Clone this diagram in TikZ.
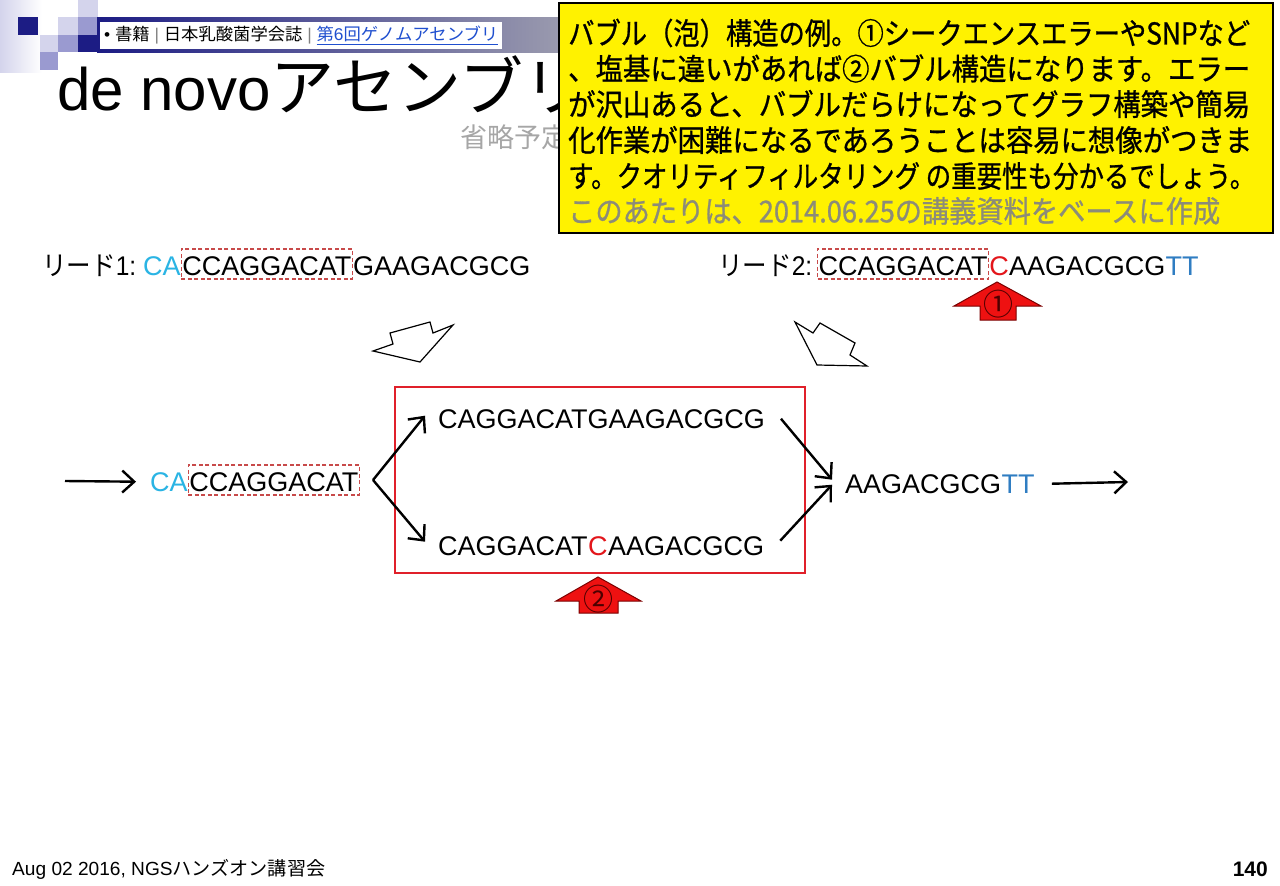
\documentclass[tikz,border=0pt]{standalone}
\usepackage{fontspec}
\setmainfont{Liberation Sans}
\newfontfamily\jp{Noto Sans CJK JP}
\newfontfamily\jpb[FakeBold=0.9]{Noto Sans CJK JP}
\usetikzlibrary{arrows.meta}
\definecolor{navy}{HTML}{1C1C84}
\definecolor{lavA}{HTML}{D4D4EC}
\definecolor{lavB}{HTML}{9A9AD0}
\definecolor{bargray}{HTML}{9A9AAE}
\definecolor{linkblue}{HTML}{1F4FCF}
\definecolor{seqcyan}{HTML}{2AB4E4}
\definecolor{ttblue}{HTML}{2F7DC2}
\definecolor{mutred}{HTML}{E3161B}
\definecolor{boxred}{HTML}{E0202A}
\definecolor{dashred}{HTML}{C84A4A}
\definecolor{arrowred}{HTML}{EE1111}
\definecolor{darkred}{HTML}{7A0000}
\definecolor{notegray}{HTML}{8C8C78}
\definecolor{subgray}{HTML}{A6A6A6}
\newcommand\seqfont{\fontsize{27}{30}\selectfont}
\newcommand\fitto[2]{\resizebox{#1}{\height}{#2}}
\begin{document}
\begin{tikzpicture}[x=1pt,y=-1pt,
  seq/.style={inner sep=0pt, font=\seqfont, anchor=base west},
  dbox/.style={seq, draw=dashred, dash pattern=on 4pt off 2.5pt, line width=1.1pt, inner xsep=1pt, inner ysep=4pt, text height=22pt, text depth=0pt},
  arr/.style={line width=2.4pt, -{Straight Barb[length=12pt,width=22pt,line width=2.4pt]}},
  hollow/.style={draw=black, line width=1.2pt, fill=white, line join=miter},
  redarrow/.style={fill=arrowred, draw=darkred, line width=1pt, line join=miter},
  circnum/.style={inner sep=0pt, font=\jp\fontsize{30}{30}\selectfont, text=black!70!red},
  cline/.style={anchor=west, inner sep=0pt, font=\jpb\fontsize{30}{30}\selectfont}
]
\useasboundingbox (0,0) rectangle (1280,886);
\fill[white] (0,0) rectangle (1280,886);

% header decoration
\shade[left color=lavA, right color=white] (0,0) rectangle (42,72);
\fill[navy] (18,17) rectangle (38,35);
\fill[lavA] (58,17) rectangle (78,35);
\fill[lavB] (78,17) rectangle (98,35);
\fill[lavA] (78,0) rectangle (98,17);
\fill[lavA] (40,35) rectangle (58,52);
\fill[lavB] (58,35) rectangle (78,52);
\fill[navy] (78,35) rectangle (98,52);
\fill[lavB] (40,52) rectangle (58,70);
\shade[left color=navy, right color=bargray] (97,17) rectangle (560,52);
\fill[white] (100,22) rectangle (502,49);
\node[anchor=west, inner sep=0pt, font=\fontsize{17}{17}\selectfont] (hdr) at (104,35.5)
  {\fitto{394pt}{• {\jp 書籍} {\color{gray}|} {\jp 日本乳酸菌学会誌} {\color{gray}|} \textcolor{linkblue}{\underline{{\jp 第}6{\jp 回ゲノムアセンブリ}}}}};

% title
\node[anchor=base west, inner sep=0pt, font=\fontsize{60}{60}\selectfont] (title) at (57,110)
  {de novo{\jp\fontsize{64}{64}\selectfont アセンブリ}};
\node[anchor=west, inner sep=0pt, font=\jp\fontsize{27}{27}\selectfont, text=subgray] (sub) at (460,137) {省略予定};

% callout
\node[draw=black, line width=1.5pt, fill=yellow, minimum width=714pt, minimum height=230pt, anchor=north west, inner sep=0pt] (note) at (558,2) {};
\node[cline] (c1) at (568,33) {\fitto{682pt}{バブル（泡）構造の例。①シークエンスエラーやSNPなど}};
\node[cline] (c2) at (568,68.5) {\fitto{682pt}{、塩基に違いがあれば②バブル構造になります。エラー}};
\node[cline] (c3) at (568,104) {\fitto{682pt}{が沢山あると、バブルだらけになってグラフ構築や簡易}};
\node[cline] (c4) at (568,140) {\fitto{684pt}{化作業が困難になるであろうことは容易に想像がつきま}};
\node[cline] (c5) at (568,176) {\fitto{687pt}{す。クオリティフィルタリング の重要性も分かるでしょう。}};
\node[cline, text=notegray] (c6) at (568,211) {\fitto{652pt}{このあたりは、2014.06.25の講義資料をベースに作成}};

% reads
\node[seq] (r1lab) at (42,275) {\fitto{94pt}{{\jp リード}1:}};
\node[seq, text=seqcyan] (r1ca) at (143,275) {CA};
\node[dbox] (r1box) at (r1ca.base east) {CCAGGACAT};
\node[seq] (r1rest) at (r1box.base east) {GAAGACGCG};

\node[seq] (r2lab) at (718,275) {\fitto{94pt}{{\jp リード}2:}};
\node[dbox] (r2box) at (817,275) {CCAGGACAT};
\node[seq, text=mutred] (r2c) at (r2box.base east) {C};
\node[seq] (r2rest) at (r2c.base east) {AAGACGCG};
\node[seq, text=ttblue] (r2tt) at (r2rest.base east) {TT};

% red arrow 1
\path[redarrow] (997,282) -- (1041,306) -- (1016,306) -- (1016,320) -- (980,320) -- (980,306) -- (954,306) -- cycle;
\node[circnum] (n1) at (998,304) {①};

% hollow arrows
\draw[hollow] (373,351) -- (393,344) -- (390,333) -- (430,322) -- (433,333) -- (453,325) -- (420,362) -- cycle;
\draw[hollow] (795,322) -- (813,333) -- (820,323) -- (855,343) -- (850,355) -- (867,366) -- (817,365) -- cycle;

% bubble graph
\node[draw=boxred, line width=2.2pt, minimum width=410pt, minimum height=186pt, inner sep=0pt] (bubble) at (600,480) {};
\node[seq, text=seqcyan] (lca) at (150,491) {CA};
\node[dbox] (lbox) at (lca.base east) {CCAGGACAT};
\node[seq] (top) at (438,428) {CAGGACATGAAGACGCG};
\node[seq] (bot1) at (438,555) {CAGGACAT};
\node[seq, text=mutred] (botc) at (bot1.base east) {C};
\node[seq] (bot2) at (botc.base east) {AAGACGCG};
\node[seq] (rn) at (845,493) {AAGACGCG};
\node[seq, text=ttblue] (rtt) at (rn.base east) {TT};

\coordinate (inL) at (65,481);
\coordinate (outR) at (1128,482);
\draw[arr] (inL) -- ([xshift=-14pt]lca.west);
\draw[arr] ([xshift=13pt]lbox.east) -- ([xshift=-13pt,yshift=3pt]top.west);
\draw[arr] ([xshift=13pt]lbox.east) -- ([xshift=-13pt,yshift=4pt]bot1.west);
\draw[arr] ([xshift=16pt]top.east) -- ([xshift=-13pt,yshift=4pt]rn.west);
\draw[arr] ([xshift=16pt,yshift=5pt]bot2.east) -- ([xshift=-13pt,yshift=-1pt]rn.west);
\draw[arr] ([xshift=17pt]rtt.east) -- (outR);

% red arrow 2
\path[redarrow] (598,577) -- (641,601) -- (618,601) -- (618,613) -- (579,613) -- (579,601) -- (556,601) -- cycle;
\node[circnum] (n2) at (598,599) {②};

% footer
\node[anchor=west, inner sep=0pt, font=\fontsize{19}{19}\selectfont] (foot) at (12,869)
  {\fitto{313pt}{Aug 02 2016, NGS{\jp ハンズオン講習会}}};
\node[anchor=east, inner sep=0pt, font=\fontsize{21}{21}\selectfont\bfseries] (page) at (1268,869) {140};
\end{tikzpicture}
\end{document}
